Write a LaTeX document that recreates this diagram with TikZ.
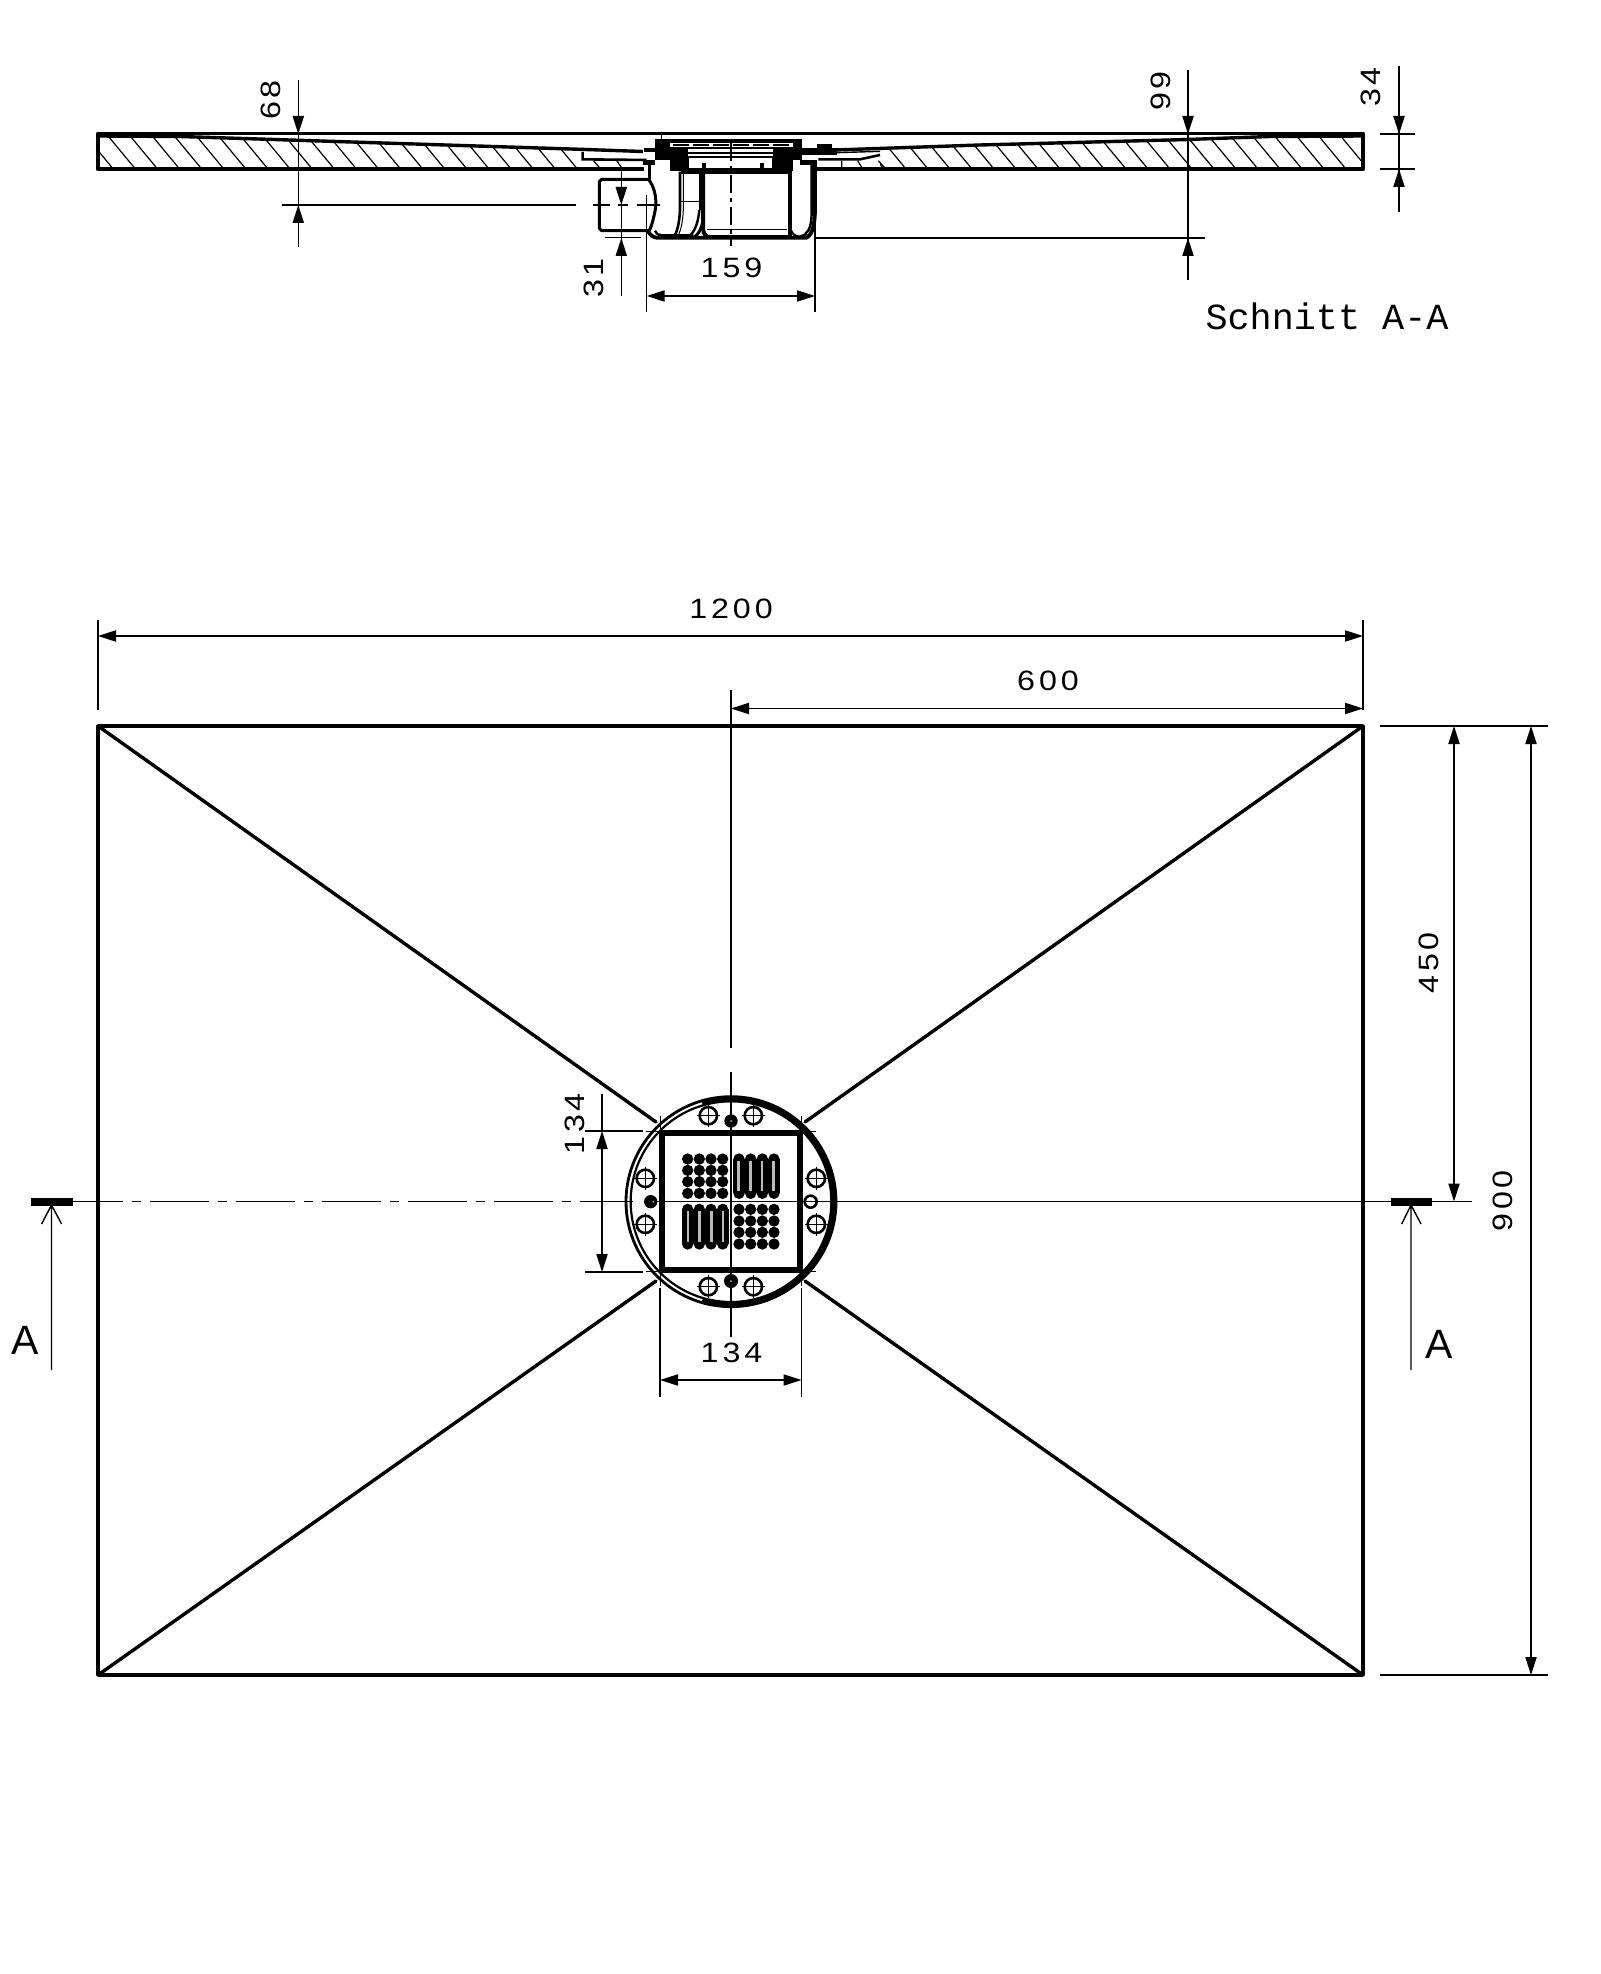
\documentclass[tikz,border=0pt]{standalone}
\usepackage{fontspec}
\setmainfont{Liberation Sans}
\newfontfamily\dimfont[LetterSpace=14,FakeStretch=1.15]{Liberation Sans}
\newfontfamily\monofont{Liberation Mono}
\usetikzlibrary{arrows.meta}
\tikzset{
  thin line/.style={line width=0.7pt,black},
  plan line/.style={line width=1.7pt,black,line cap=round,line join=round},
  top line/.style={line width=1.5pt,black,line cap=round},
  heavy line/.style={line width=2.1pt,black,line cap=round,line join=round},
  dimarrow/.style={thin line,{Triangle[length=9pt,width=5.6pt]}-{Triangle[length=9pt,width=5.6pt]}},
  tipend/.style={thin line,-{Triangle[length=9pt,width=5.6pt]}},
  dimtext/.style={font=\dimfont\fontsize{14}{14}\selectfont,inner sep=0pt},
  markertext/.style={inner sep=0pt,font=\fontsize{20.5}{20.5}\selectfont},
  hatchline/.style={line width=0.6pt,black},
  centre line/.style={thin line,dash pattern=on 29.6pt off 4.4pt on 4.6pt off 4.4pt,dash phase=4.5pt},
}
\begin{document}
\begin{tikzpicture}[x=0.5pt,y=-0.5pt]
\useasboundingbox (0,0) rectangle (1600,1974);
\fill[white] (0,0) rectangle (1600,1974);
% ---- Plan view
\coordinate (pa) at (98,726); \coordinate (pb) at (1363,726);
\coordinate (pc) at (1363,1675); \coordinate (pd) at (98,1675);
\coordinate (cc) at (731,1201.5);
\draw[plan line] (pa) rectangle (pc);
\draw[plan line] (pa) -- (656,1122); \draw[plan line] (pb) -- (805,1122);
\draw[plan line] (pd) -- (656,1281); \draw[plan line] (pc) -- (805,1281);
% centre lines
\coordinate (clL) at (73,1201.5); \coordinate (clR) at (1391,1201.5);
\draw[centre line] (clL) -- (633,1201.5);
\draw[thin line] (835,1201.5) -- (clR);
\coordinate (vtop) at (731,690);
\draw[thin line] (vtop) -- (731,1048);
\draw[thin line] (731,1072) -- (731,1337);
\draw[thin line] (657,1201.5) -- (838,1201.5);
% drain plan, zoom coordinates
\begin{scope}[shift={(600,1080)},x=0.16667pt,y=-0.16667pt]
 \draw[line width=1.4pt] (393,365) circle (315);
 \draw[line width=1.1pt] (393,365) circle (301);
 \draw[line width=2.6pt,line cap=round] plot[domain=-105:105,samples=70] ({393+309*cos(\x)},{365+309*sin(\x)});
 \draw[line width=2.9pt] (186,158) rectangle (600,570);
 \foreach \p in {(325,107),(460,107),(325,620),(460,620),(136,295),(136,433),(649,295),(649,433)}{
   \draw[line width=1.3pt] \p circle (26);
   \draw[line width=0.7pt] \p ++(-35,0) -- ++(70,0);
   \draw[line width=0.7pt] \p ++(0,-35) -- ++(0,70);
 }
 \fill (393,123) circle (20); \fill (393,603) circle (21); \fill (152,365) circle (20);
 \fill[gray!60] (393,123) circle (3); \fill[gray!60] (393,603) circle (3); \fill[gray!60] (160,365) circle (3);
 \draw[line width=1.3pt] (632,365) circle (18);
 \foreach \x in {263,298,333,368} \foreach \y in {237,271,305,340} \fill (\x,\y) circle (17);
 \foreach \x in {417,452,487,522} \foreach \y in {388,423,457,492} \fill (\x,\y) circle (17);
 \foreach \x in {417,452,487,522}{
   \foreach \y in {237,271,305,340} \fill (\x,\y) circle (17);
   \fill (\x-17,237) rectangle (\x+18,340);
   \fill[gray!55] (\x-5,244) rectangle (\x+3,334);
 }
 \foreach \x in {263,298,333,368}{
   \foreach \y in {388,423,457,492} \fill (\x,\y) circle (17);
   \fill (\x-17,388) rectangle (\x+18,492);
   \fill[gray!55] (\x-3,394) rectangle (\x+5,486);
 }
 \draw[line width=0.5pt] (378,365) -- (408,365) (393,350) -- (393,380);
 % corner crosses
 \foreach \p in {(181,153),(604,153),(181,575),(604,575)}{
  \draw[line width=0.5pt] \p ++(-44,0) -- ++(88,0);
  \draw[line width=0.5pt] \p ++(0,-44) -- ++(0,88);
 }
\end{scope}
% plan dims
\coordinate (e1a) at (98,620); \coordinate (e1b) at (98,710);
\coordinate (e2a) at (1363,620); \coordinate (e2b) at (1363,710);
\draw[thin line] (e1a) -- (e1b); \draw[thin line] (e2a) -- (e2b);
\coordinate (d12a) at (98,636); \coordinate (d12b) at (1363,636);
\draw[dimarrow] (d12a) -- (d12b);
\node[dimtext] (t1200) at (731,609) {1200};
\coordinate (d6a) at (731,708.5); \coordinate (d6b) at (1363,708.5);
\draw[dimarrow] (d6a) -- (d6b);
\node[dimtext] (t600) at (1048,681) {600};
\draw[thin line] (1380,726) -- (1548,726);
\draw[thin line] (1380,1675) -- (1548,1675);
\draw[thin line] (1391,1201.5) -- (1472,1201.5);
\draw[dimarrow] (1454,726) -- (1454,1201.5);
\draw[dimarrow] (1531,726) -- (1531,1675);
\node[dimtext,rotate=90] (t450) at (1429,963) {450};
\node[dimtext,rotate=90] (t900) at (1503,1201) {900};
\draw[dimarrow] (602,1131) -- (602,1272);
\draw[thin line] (602,1094) -- (602,1131);
\draw[thin line] (585,1131) -- (643,1131); \draw[thin line] (585,1272) -- (643,1272);
\node[dimtext,rotate=90] (t134a) at (575,1124) {134};
\draw[dimarrow] (660,1380) -- (801.5,1380);
\draw[thin line] (660,1288) -- (660,1397); \draw[thin line] (801.5,1288) -- (801.5,1397);
\node[dimtext] (t134b) at (731.5,1353) {134};
% section marks
\fill (31,1197.5) rectangle (73,1205.5); \fill (1391,1197.5) rectangle (1432,1205.5);
\draw[thin line] (51.5,1370) -- (51.5,1205) (41.6,1224) -- (51.5,1205) -- (61.6,1224);
\draw[thin line] (1411,1370) -- (1411,1205) (1401.7,1224) -- (1411,1205) -- (1421,1224);
\node[markertext] (tal) at (25,1340) {A};
\node[markertext] (tar) at (1439,1344) {A};
% ---- Section
\begin{scope}
 \clip (98,136) -- (180,136.5) -- (580,149.3) -- (583,149.3) -- (583,169) -- (98,169) -- cycle;
 \foreach \i in {0,...,21}{
   \draw[hatchline] ({113.3+22.1*\i-29},{169-35}) -- ({113.3+22.1*\i},169);
 }
\end{scope}
\begin{scope}
 \clip (880,148) -- (980,145) -- (1188,139.5) -- (1270,136.5) -- (1363,136) -- (1363,169) -- (880,169) -- cycle;
 \foreach \i in {-1,...,21}{
   \draw[hatchline] ({1346-22*\i-29},{169-35}) -- ({1346-22*\i},169);
 }
\end{scope}
\draw[top line] (98,134) -- (1363,134);
\draw[heavy line] (98,134) -- (98,169) -- (645,169);
\draw[heavy line] (815,169) -- (1363,169) -- (1363,134);
\draw[line width=1.7pt] (98,136) -- (180,136.5) -- (580,149.3) -- (657,152);
\draw[line width=1.7pt] (1363,136) -- (1270,136.5) -- (1188,139.5) -- (980,145) -- (835,150);
\begin{scope}[shift={(560,110)},x=0.16667pt,y=-0.16667pt]
 \fill[white] (250,118) rectangle (290,148);
 \draw[line width=1.3pt] (68,126) -- (68,148) -- (260,150);
 \draw[line width=0.6pt] (100,152) -- (118,172) (170,152) -- (184,172);
 % housing cut-out clean
 \fill[white] (252,171) rectangle (770,390);
 % right recess
 \fill[white] (815,128) rectangle (960,147);
 \draw[line width=1.3pt] (775,148) -- (900,148) -- (960,135);
 \draw[line width=0.7pt] (830,128) -- (960,124);
 \draw[line width=0.6pt] (845,152) -- (845,172) (893,152) -- (905,172) (955,152) -- (978,178);
 \fill[white] (290,100) rectangle (700,180);
 % flange
 \fill (285,88) rectangle (330,150);
 \fill (700,88) rectangle (725,150);
 \fill (300,86) rectangle (725,98);
 \draw[line width=1pt,dash pattern=on 8pt off 2pt] (340,104) -- (700,104);
 \fill (330,110) rectangle (705,118);
 \draw[line width=1pt] (340,130) -- (700,130);
 \fill (770,102) rectangle (815,130);
 \fill (725,115) rectangle (830,135);
 \fill (252,115) rectangle (290,125);
 \draw[line width=0.5pt] (305,72) -- (305,88);
 % inner chamber top
 \fill (330,118) rectangle (385,182);
 \fill (640,118) rectangle (700,182);
 \draw[line width=1.1pt] (385,142) rectangle (638,178);
 \fill (363,180) rectangle (697,192);
 \fill (250,150) rectangle (285,165);
 \fill (720,150) rectangle (770,165);
 \fill (425,158) rectangle (437,185);
 \fill (600,158) rectangle (612,185);
 % outlet pipe
 \draw[line width=1.5pt,line join=round] (268,208) -- (125,208) -- (118,215) -- (118,355) -- (125,362) -- (268,362);
 \draw[line width=1.5pt] (265,208) .. controls (280,225) and (292,260) .. (286,298) .. controls (282,320) and (276,345) .. (268,362);
 % housing
 \draw[line width=1.7pt,line join=round,line cap=round] (268,162) -- (268,208);
 \draw[line width=1.9pt,line join=round] (765,162) -- (765,300) .. controls (764,340) and (760,370) .. (740,383) -- (290,383) .. controls (280,382) and (270,375) .. (265,365);
 \draw[line width=1.2pt] (755,162) -- (755,300) .. controls (755,340) and (750,362) .. (735,372);
 \draw[line width=1.2pt] (285,362) .. controls (290,375) and (300,376) .. (310,376) -- (400,376);
 \draw[line width=1.3pt] (360,185) -- (360,300) .. controls (358,340) and (352,360) .. (345,376);
 \draw[line width=0.5pt] (370,190) -- (370,300) .. controls (368,340) and (362,360) .. (355,376);
 \draw[line width=1.2pt] (418,300) .. controls (415,335) and (405,365) .. (388,378);
 \draw[line width=0.5pt] (362,275) -- (420,275);
 \draw[line width=2pt] (429,185) -- (429,355) .. controls (430,370) and (436,378) .. (445,383);
 \draw[line width=1.2pt] (420,190) -- (420,300);
 \draw[line width=1.5pt] (429,330) .. controls (425,355) and (418,372) .. (400,383);
 \draw[line width=1.8pt] (692,190) -- (692,383);
 \draw[line width=0.7pt] (685,190) -- (685,383);
 \draw[line width=1.1pt] (692,358) .. controls (696,372) and (704,378) .. (718,380) -- (740,372);
 \draw[line width=0.6pt] (440,358) -- (680,358);
 \fill (435,374) rectangle (690,386);
 % centre lines
 \draw[thin line] (0,285) -- (45,285) (100,285) -- (150,285) (175,285) -- (205,285) (232,285) -- (300,285);
 \draw[thin line,dash pattern=on 9pt off 2.5pt on 2pt off 2.5pt] (513,100) -- (513,408);
\end{scope}
% section dims
\coordinate (s68a) at (298.3,80); \coordinate (s68b) at (298.3,247);
\draw[thin line] (s68a) -- (s68b);
\draw[tipend] (298.3,115) -- (298.3,134);
\draw[tipend] (298.3,225) -- (298.3,205);
\draw[thin line] (282,205) -- (576,205);
\node[dimtext,rotate=90] (t68) at (271,100) {68};
\coordinate (s99a) at (1188,70); \coordinate (s99b) at (1188,280);
\draw[thin line] (s99a) -- (s99b);
\draw[tipend] (1188,115) -- (1188,134);
\draw[tipend] (1188,258) -- (1188,238);
\draw[thin line] (815,238) -- (1205,238);
\node[dimtext,rotate=90] (t99) at (1161,91) {99};
\coordinate (s34a) at (1399,66); \coordinate (s34b) at (1399,212);
\draw[thin line] (s34a) -- (s34b);
\draw[tipend] (1399,115) -- (1399,134);
\draw[tipend] (1399,189) -- (1399,169);
\draw[thin line] (1380,134) -- (1415,134); \draw[thin line] (1380,169) -- (1415,169);
\node[dimtext,rotate=90] (t34) at (1371,87) {34};
\draw[thin line] (621.3,167) -- (621.3,296);
\draw[tipend] (621.3,188) -- (621.3,205);
\draw[tipend] (621.3,258) -- (621.3,238);
\draw[thin line] (605,237.5) -- (641,237.5);
\node[dimtext,rotate=90] (t31) at (594,278) {31};
\draw[dimarrow] (646.7,296) -- (815,296);
\draw[thin line] (646.7,195) -- (646.7,312);
\draw[thin line] (815,165) -- (815,312);
\node[dimtext] (t159) at (731.5,268) {159};
\node[inner sep=0pt,font=\monofont\fontsize{18.4}{18.4}\selectfont] (tsec) at (1327,316.5) {Schnitt A-A};
\end{tikzpicture}
\end{document}
